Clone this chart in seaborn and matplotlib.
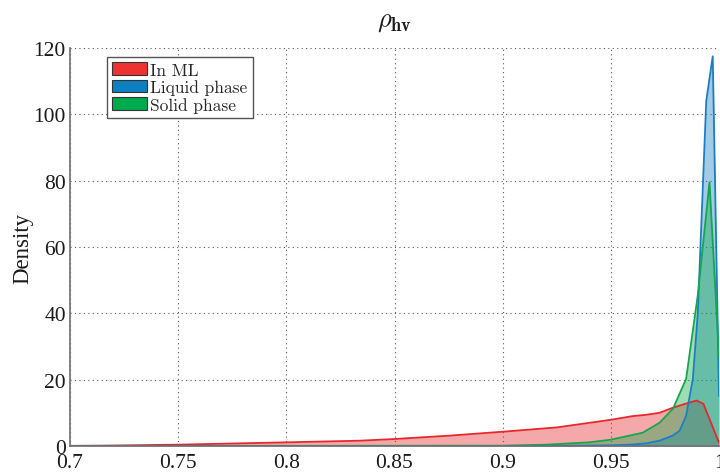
import matplotlib
matplotlib.use("Agg")
import matplotlib.pyplot as plt
from matplotlib.patches import Patch
import seaborn as sns
import pandas as pd

# Density estimates of rho_hv for three hydrometeor classes
ml_x = [0.70, 0.72, 0.75, 0.80, 0.834, 0.85, 0.875, 0.90, 0.925, 0.95, 0.96,
        0.9663, 0.9725, 0.9785, 0.9848, 0.9896, 0.9928, 1.0]
ml_y = [0.05, 0.15, 0.4, 1.1, 1.6, 2.1, 3.1, 4.3, 5.6, 7.9, 9.0,
        9.4, 10.0, 11.5, 12.8, 13.7, 12.7, 1.0]

liq_x = [0.70, 0.90, 0.93, 0.95, 0.96, 0.9663, 0.9725, 0.9785, 0.9818,
         0.9848, 0.9879, 0.9902, 0.9941, 0.9971, 1.0]
liq_y = [0.0, 0.02, 0.08, 0.2, 0.45, 0.8, 1.6, 3.1, 4.6,
         9.1, 20.2, 40.0, 104.0, 117.5, 15.0]

sol_x = [0.70, 0.90, 0.92, 0.94, 0.95, 0.9647, 0.9725, 0.9787, 0.9848,
         0.9902, 0.9956, 1.0]
sol_y = [0.0, 0.1, 0.4, 1.1, 1.9, 4.0, 7.0, 11.2, 20.2,
         45.5, 79.5, 27.0]

labels = ["In ML", "Liquid phase", "Solid phase"]
line_colors = ["#e8262b", "#1a7fc2", "#10a84a"]
legend_colors = ["#ee3232", "#0c80c0", "#00aa4f"]

x_ticks = [0.7, 0.75, 0.8, 0.85, 0.9, 0.95, 1.0]
x_tick_labels = ["0.7", "0.75", "0.8", "0.85", "0.9", "0.95", "1"]
y_ticks = [0, 20, 40, 60, 80, 100, 120]

sns.set_theme(style="white")
plt.rcParams["font.family"] = ["Liberation Serif", "DejaVu Serif"]
plt.rcParams["mathtext.fontset"] = "cm"

fig = plt.figure(figsize=(7.2, 4.77), dpi=100)
ax = fig.add_axes([70 / 720, 30 / 477, 649 / 720, 398 / 477])

series = [(ml_x, ml_y), (liq_x, liq_y), (sol_x, sol_y)]
for (xs, ys), lab, col in zip(series, labels, line_colors):
    df = pd.DataFrame({"x": xs, "y": ys})
    ax.fill_between(df["x"], df["y"], 0, color=col, alpha=0.4, linewidth=0)
    sns.lineplot(data=df, x="x", y="y", ax=ax, color=col, linewidth=1.3,
                 sort=False, estimator=None)

ax.set_xlim(0.7, 1.0)
ax.set_ylim(0, 120)
ax.set_xticks(x_ticks)
ax.set_xticklabels(x_tick_labels)
ax.set_yticks(y_ticks)
ax.grid(True, linestyle=(0, (1, 3)), color="#555555", linewidth=0.8)
ax.set_axisbelow(True)

for side in ["top", "right"]:
    ax.spines[side].set_visible(False)
for side in ["left", "bottom"]:
    ax.spines[side].set_color("#6e6e78")
    ax.spines[side].set_linewidth(1.2)
ax.tick_params(axis="both", direction="in", length=4, width=0.8,
               color="#6e6e78", labelsize=15.5, pad=3, labelcolor="#1a1a1a")
ax.tick_params(axis="x", pad=5)

ax.set_xlabel("")
ax.set_ylabel("Density", fontsize=16.5, color="#1a1a1a", labelpad=0)
ax.set_title(r"$\rho_{\mathbf{hv}}$", fontsize=19, pad=16, color="#1a1a1a")

handles = [Patch(facecolor=c, edgecolor="#333333", linewidth=0.8)
           for c in legend_colors]
leg = ax.legend(handles, labels, loc="upper left",
                bbox_to_anchor=(37 / 649, 389 / 398), borderaxespad=0,
                prop={"family": "cmr10", "size": 12.5}, fancybox=False,
                framealpha=1, edgecolor="#555555", handlelength=2.0,
                handleheight=0.75, handletextpad=0.2, labelspacing=0.1,
                borderpad=0.3)
leg.get_frame().set_linewidth(1.0)

fig.savefig("out.png", dpi=100)
